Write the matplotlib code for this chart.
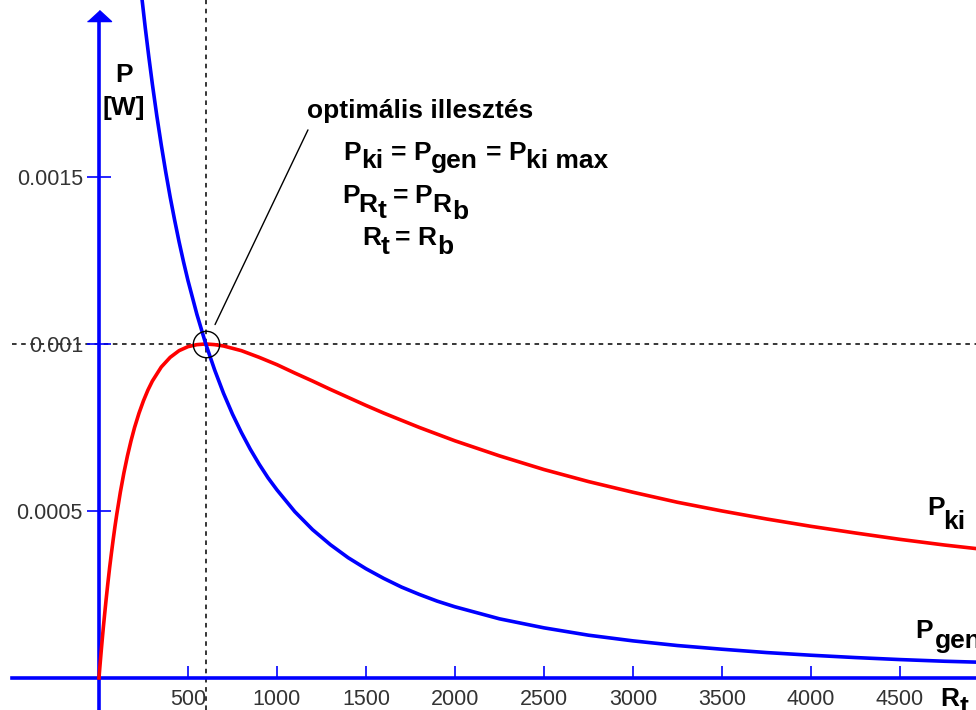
import matplotlib.pyplot as plt
from matplotlib.transforms import IdentityTransform

plt.rcParams['font.family'] = ['Liberation Sans', 'DejaVu Sans']

# terhelő ellenállás R_t [ohm] és a leolvasott teljesítmények [W]
r_ki = [0, 5, 10, 15, 20, 25, 30, 40, 50, 60, 70, 80, 90, 100, 120, 140, 160, 180,
        200, 225, 250, 275, 300, 350, 400, 450, 500, 550, 600, 650, 700, 800, 900,
        1000, 1100, 1200, 1300, 1400, 1500, 1600, 1800, 2000, 2250, 2500, 2750,
        3000, 3250, 3500, 3750, 4000, 4250, 4500, 4750, 4950]
p_ki = [0, 0.0000328, 0.0000645, 0.0000952, 0.000125, 0.000154, 0.000181,
        0.000234, 0.000284, 0.000331, 0.000374, 0.000415, 0.000454, 0.000490,
        0.000556, 0.000614, 0.000665, 0.000710, 0.000750, 0.000793, 0.000830,
        0.000862, 0.000889, 0.000931, 0.000960, 0.000980, 0.000992, 0.000998,
        0.001, 0.000998, 0.000994, 0.000980, 0.000960, 0.000938, 0.000913,
        0.000889, 0.000864, 0.000840, 0.000816, 0.000793, 0.000750, 0.000710,
        0.000665, 0.000624, 0.000588, 0.000556, 0.000526, 0.000500, 0.000476,
        0.000454, 0.000434, 0.000415, 0.000398, 0.000386]

r_gen = [200, 220, 240, 260, 280, 300, 325, 350, 375, 400, 425, 450, 475, 500, 550,
         600, 650, 700, 750, 800, 850, 900, 950, 1000, 1100, 1200, 1300, 1400, 1500,
         1600, 1700, 1800, 1900, 2000, 2250, 2500, 2750, 3000, 3250, 3500, 3750,
         4000, 4250, 4500, 4750, 4950]
p_gen = [0.00225, 0.002142, 0.002041, 0.001947, 0.001860, 0.001778, 0.001683,
         0.001596, 0.001515, 0.00144, 0.001371, 0.001306, 0.001246, 0.00119,
         0.001089, 0.001, 0.000922, 0.000852, 0.00079, 0.000735, 0.000685, 0.00064,
         0.000599, 0.000563, 0.000498, 0.000444, 0.000399, 0.00036, 0.000327,
         0.000298, 0.000272, 0.00025, 0.00023, 0.000213, 0.000177, 0.00015,
         0.000128, 0.000111, 0.000097, 0.000086, 0.000076, 0.000068, 0.000061,
         0.000055, 0.00005, 0.000047]

# optimális illesztés pontja
r_opt = 600
p_max = 0.001

x_ticks = [500, 1000, 1500, 2000, 2500, 3000, 3500, 4000, 4500]
x_labels = ['500', '1000', '1500', '2000', '2500', '3000', '3500', '4000', '4500']
y_ticks = [0.0005, 0.001, 0.0015]
y_labels = ['0.0005', '0.001', '0.0015']

W, H = 976, 710
fig = plt.figure(figsize=(W / 100, H / 100), dpi=100)
ax = fig.add_axes([0, 0, 1, 1])
ax.set_xlim(-556, 4927)
ax.set_ylim(-0.000096, 0.00203)

blue = '#0000ff'
red = '#ff0000'

# tengelyek
ax.spines['top'].set_visible(False)
ax.spines['right'].set_visible(False)
ax.spines['left'].set_position(('data', 0))
ax.spines['bottom'].set_position(('data', 0))
for s in ['left', 'bottom']:
    ax.spines[s].set_color(blue)
    ax.spines[s].set_linewidth(2.6)
ax.spines['bottom'].set_bounds(-489, 4927)
ax.spines['left'].set_bounds(-0.000096, 0.00196)
ax.plot(0, 0.002, marker=[(-1, -0.92), (1, -0.92), (0, 0)], ms=17.3,
        color=blue, clip_on=False, zorder=3)

ax.set_xticks(x_ticks, x_labels)
ax.set_yticks(y_ticks, y_labels)
ax.tick_params(axis='x', direction='in', length=8.6, width=1.2, color=blue,
               pad=8, labelsize=15.5, labelcolor='#333333')
ax.tick_params(axis='y', direction='inout', length=17, width=1.2, color=blue,
               pad=3, labelsize=15.5, labelcolor='#333333')

# szaggatott segédvonalak
ax.axvline(r_opt, color='black', lw=1.1, ls=(0, (3, 3)), zorder=1)
ax.plot([-489, 4927], [p_max, p_max], color='black', lw=1.1, ls=(0, (3, 3)), zorder=1)

# görbék
ax.plot(r_ki, p_ki, color=red, lw=2.6, zorder=3)
ax.plot(r_gen, p_gen, color=blue, lw=2.6, zorder=3)

# kör és mutatóvonal
ax.plot(r_opt, p_max, 'o', ms=19, mfc='none', mec='black', mew=1, zorder=4)
ax.annotate('', xy=(r_opt, p_max), xytext=(1174, 0.001641),
            arrowprops=dict(arrowstyle='-', lw=1, color='black',
                            shrinkA=0, shrinkB=15.5))


def px(x, y, s, size=19, **kw):
    fig.text(x, H - y, s, transform=IdentityTransform(), va='baseline',
             fontsize=size, fontweight='bold', color='black', **kw)


# tengelyfeliratok
px(124, 82, 'P', ha='center')
px(124, 115, '[W]', ha='center')
px(940, 706, 'R')
px(960, 714, 't')

# görbék nevei
px(927, 515, 'P')
px(943, 529, 'ki')
px(915, 638, 'P')
px(935, 648, 'gen')

# magyarázó szöveg
px(307, 118, 'optimális illesztés')

px(343, 160, 'P')
px(361, 168, 'ki')
px(391, 160, '=')
px(413, 160, 'P')
px(431, 168, 'gen')
px(486, 160, '=')
px(508, 160, 'P')
px(526, 168, 'ki max')

px(342, 203, 'P')
px(358, 212, 'R')
px(378, 218, 't')
px(393, 203, '=')
px(414, 203, 'P')
px(432, 212, 'R')
px(452, 219, 'b')

px(362, 245, 'R')
px(381, 254, 't')
px(395, 245, '=')
px(417, 245, 'R')
px(437, 254, 'b')

fig.savefig('out.png', dpi=100)
